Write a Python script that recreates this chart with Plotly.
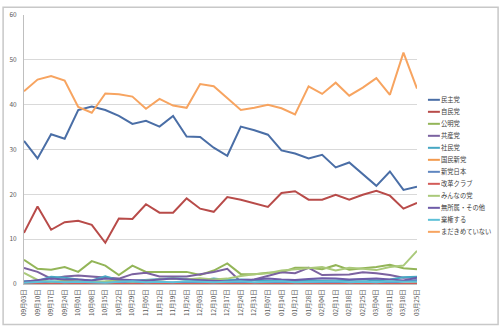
import plotly.graph_objects as go

dates = ["09月03日", "09月10日", "09月17日", "09月24日", "10月01日", "10月08日", "10月15日",
         "10月22日", "10月29日", "11月05日", "11月12日", "11月19日", "11月26日", "12月03日",
         "12月10日", "12月17日", "12月24日", "12月31日", "01月07日", "01月14日", "01月21日",
         "01月28日", "02月04日", "02月11日", "02月18日", "02月25日", "03月04日", "03月11日",
         "03月18日", "03月25日"]

minshu = [31.9, 28.0, 33.4, 32.4, 38.8, 39.6, 38.8, 37.5, 35.7, 36.4, 35.1, 37.5, 32.9, 32.8, 30.4,
          28.6, 35.1, 34.3, 33.3, 29.8, 29.1, 28.0, 28.8, 26.0, 27.1, 24.4, 21.9, 25.1, 21.0, 21.7]
jimin = [11.4, 17.3, 12.1, 13.8, 14.1, 13.2, 9.2, 14.6, 14.5, 17.8, 15.9, 15.9, 19.1, 16.8, 16.1,
         19.4, 18.8, 18.0, 17.2, 20.3, 20.7, 18.8, 18.8, 19.9, 18.8, 19.9, 20.8, 19.7, 16.8, 18.1]
komei = [5.4, 3.4, 3.2, 3.8, 2.7, 5.1, 4.1, 2.0, 4.1, 2.7, 2.7, 2.7, 2.7, 2.0, 3.0,
         4.6, 2.2, 2.2, 2.5, 2.6, 3.6, 3.6, 3.3, 4.2, 3.2, 3.5, 3.8, 4.3, 3.5, 3.3]
kyosan = [3.6, 2.7, 1.2, 1.7, 1.9, 1.7, 1.5, 1.2, 2.2, 2.5, 1.7, 1.7, 1.7, 2.2, 2.7,
          3.4, 0.5, 1.0, 1.8, 2.6, 2.4, 3.6, 2.0, 2.0, 2.1, 2.6, 2.4, 2.0, 1.4, 1.5]
shamin = [0.6, 0.7, 1.6, 1.4, 1.0, 0.8, 1.7, 0.8, 0.7, 0.9, 1.2, 1.3, 1.1, 0.8, 1.2,
          0.9, 1.0, 0.9, 0.7, 0.8, 0.6, 0.9, 0.7, 0.8, 0.9, 1.0, 0.8, 1.0, 1.5, 1.6]
kokumin = [0.2, 0.3, 0.1, 0.2, 0.1, 0.3, 0.2, 0.1, 0.2, 0.3, 0.2, 0.1, 0.2, 0.3, 0.2,
           0.1, 0.3, 0.2, 0.1, 0.2, 0.3, 0.1, 0.2, 0.1, 0.3, 0.2, 0.1, 0.2, 0.1, 0.2]
shinto_nippon = [0.4, 0.3, 0.2, 0.5, 0.3, 0.2, 0.3, 0.4, 0.2, 0.3, 0.2, 0.3, 0.4, 0.2, 0.3,
                 0.2, 0.3, 0.2, 0.4, 0.3, 0.2, 0.3, 0.2, 0.4, 0.3, 0.2, 0.3, 0.2, 0.6, 0.9]
kaikaku = [0.0, 0.1, 0.0, 0.0, 0.1, 0.0, 0.0, 0.0, 0.1, 0.0, 0.0, 0.0, 0.0, 0.1, 0.0,
           0.0, 0.0, 0.1, 0.0, 0.0, 0.0, 0.0, 0.1, 0.0, 0.0, 0.0, 0.0, 0.0, 0.1, 0.0]
minna = [2.5, 0.9, 0.5, 0.7, 0.6, 0.5, 0.6, 0.8, 0.5, 0.8, 1.0, 1.2, 1.0, 1.3, 1.0,
         1.2, 1.8, 2.2, 2.4, 3.0, 3.3, 3.5, 3.8, 3.0, 3.6, 3.4, 3.1, 3.8, 4.1, 7.4]
mushozoku = [0.5, 0.8, 1.2, 1.0, 1.0, 0.8, 1.2, 1.0, 0.8, 0.7, 1.0, 1.2, 1.0, 0.8, 0.7,
             0.6, 0.9, 1.0, 1.2, 1.0, 0.9, 1.1, 1.3, 1.2, 1.0, 1.1, 1.2, 1.0, 0.8, 1.4]
kiken = [0.3, 0.5, 0.6, 0.4, 0.5, 0.4, 0.3, 0.5, 0.6, 0.4, 0.5, 0.4, 0.6, 0.5, 0.4,
         0.5, 0.6, 0.4, 0.5, 0.6, 0.4, 0.5, 0.5, 0.6, 0.4, 0.5, 0.4, 0.6, 0.5, 0.5]
mitei = [43.0, 45.6, 46.4, 45.4, 39.5, 38.2, 42.5, 42.3, 41.8, 39.1, 41.3, 39.8, 39.3, 44.6, 44.1,
         41.4, 38.8, 39.3, 40.0, 39.2, 37.8, 44.1, 42.4, 44.9, 42.0, 43.8, 45.9, 42.2, 51.6, 43.6]

series_names = ["民主党", "自民党", "公明党", "共産党", "社民党", "国民新党",
                "新党日本", "改革クラブ", "みんなの党", "無所属・その他", "棄権する", "まだきめていない"]
series_values = [minshu, jimin, komei, kyosan, shamin, kokumin,
                 shinto_nippon, kaikaku, minna, mushozoku, kiken, mitei]
series_colors = ["#4A6EA6", "#B84B49", "#93B558", "#7B62A0", "#47A7C3", "#F29A4E",
                 "#5F86C0", "#D35B58", "#AAC97A", "#6E5CA8", "#5EC0D8", "#F7A460"]

FONT = "Noto Sans CJK JP, Noto Sans, sans-serif"

fig = go.Figure()
for name, vals, col in zip(series_names, series_values, series_colors):
    fig.add_trace(go.Scatter(x=dates, y=vals, name=name, mode="lines",
                             line=dict(color=col, width=2), showlegend=False))

# plot area geometry in pixels (for legend / border placement in paper coords)
W, H = 500, 327
L, R, T, B = 22, 83, 9, 43
pw, ph = W - L - R, H - T - B


def px_x(px):
    return (px - L) / pw


def px_y(py):
    return (H - B - py) / ph


shapes = []
annotations = []
# compact manual legend (Excel-like spacing)
for i, (name, col) in enumerate(zip(series_names, series_colors)):
    yy = px_y(95.7 + 12.27 * i)
    shapes.append(dict(type="line", xref="paper", yref="paper",
                       x0=px_x(428), x1=px_x(440), y0=yy, y1=yy,
                       line=dict(color=col, width=2)))
    annotations.append(dict(xref="paper", yref="paper", x=px_x(440.5), y=yy,
                            xanchor="left", yanchor="middle", text=name, showarrow=False,
                            borderpad=0,
                            font=dict(size=6.3, color="#404040", family=FONT)))

# chart-area border
shapes.append(dict(type="rect", xref="paper", yref="paper",
                   x0=px_x(1), x1=px_x(498.5), y0=px_y(1), y1=px_y(325.5),
                   line=dict(color="#C8C8C8", width=1.5), layer="below"))

fig.update_layout(
    width=W, height=H,
    margin=dict(l=L, r=R, t=T, b=B, pad=0),
    paper_bgcolor="white", plot_bgcolor="white",
    font=dict(family=FONT, size=7, color="#595959"),
    shapes=shapes, annotations=annotations,
    showlegend=False,
    xaxis=dict(type="category", range=[0, len(dates) - 1], tickangle=-90,
               showgrid=False, showline=True, linecolor="#BFBFBF", linewidth=1,
               ticks="", ticklabelstandoff=2,
               tickfont=dict(size=6.3, color="#595959", family=FONT), fixedrange=True),
    yaxis=dict(range=[0, 60], dtick=10, showgrid=True, gridcolor="#D9D9D9", gridwidth=1,
               showline=True, linecolor="#BFBFBF", linewidth=1, zeroline=False,
               ticks="", ticklabelstandoff=5, tickfont=dict(size=6.5, color="#595959", family=FONT),
               fixedrange=True),
)

fig.write_html("out.html")
